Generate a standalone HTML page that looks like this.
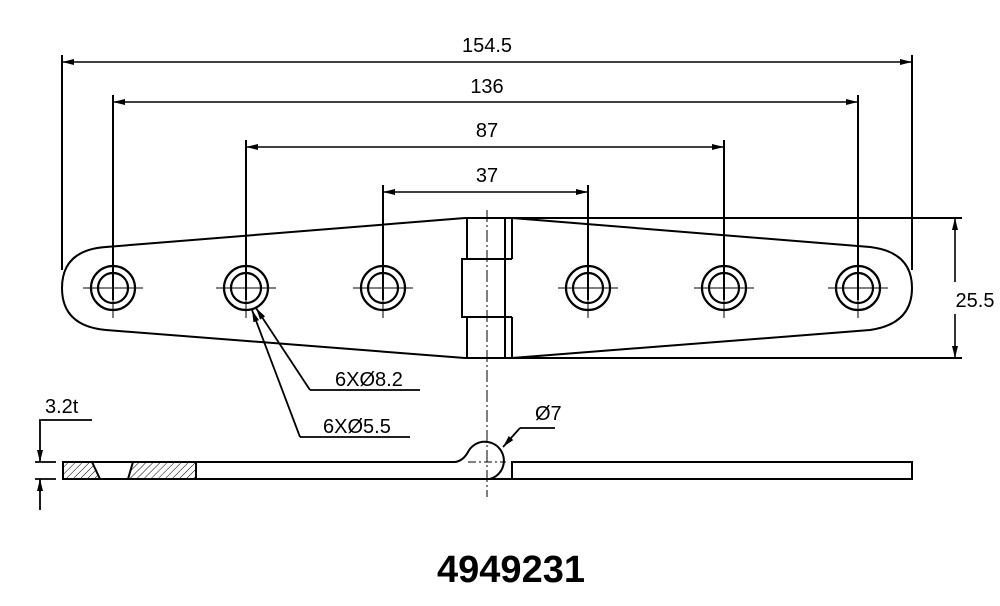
<!DOCTYPE html>
<html><head><meta charset="utf-8"><style>
html,body{margin:0;padding:0;background:#fff;}
svg{display:block;}
text{font-family:"Liberation Sans",sans-serif;fill:#000;}
</style></head><body>
<svg width="1000" height="606" viewBox="0 0 1000 606" xmlns="http://www.w3.org/2000/svg">
<defs>
<pattern id="h" width="5" height="5" patternUnits="userSpaceOnUse" patternTransform="rotate(45)">
<line x1="0" y1="0" x2="0" y2="5" stroke="#000" stroke-width="1"/></pattern>
<marker id="a" markerWidth="12" markerHeight="6" refX="12" refY="3" orient="auto" markerUnits="userSpaceOnUse">
<path d="M0,0 L12,3 L0,6 z" fill="#000"/></marker>
<marker id="b" markerWidth="12" markerHeight="6" refX="0" refY="3" orient="auto" markerUnits="userSpaceOnUse">
<path d="M12,0 L0,3 L12,6 z" fill="#000"/></marker>
</defs>
<g stroke="#000" fill="none" stroke-width="2">
<line x1="62" y1="62" x2="912" y2="62" stroke-width="1.6" marker-start="url(#b)" marker-end="url(#a)"/>
<line x1="113" y1="102" x2="858" y2="102" stroke-width="1.6" marker-start="url(#b)" marker-end="url(#a)"/>
<line x1="246" y1="147" x2="724" y2="147" stroke-width="1.6" marker-start="url(#b)" marker-end="url(#a)"/>
<line x1="383" y1="192" x2="588" y2="192" stroke-width="1.6" marker-start="url(#b)" marker-end="url(#a)"/>
<line x1="62" y1="55" x2="62" y2="270"/>
<line x1="912" y1="55" x2="912" y2="270"/>
<line x1="113" y1="95" x2="113" y2="300"/>
<line x1="858" y1="95" x2="858" y2="300"/>
<line x1="246" y1="140" x2="246" y2="300"/>
<line x1="724" y1="140" x2="724" y2="300"/>
<line x1="383" y1="185" x2="383" y2="300"/>
<line x1="588" y1="185" x2="588" y2="300"/>
<line x1="510" y1="218" x2="962" y2="218"/>
<line x1="510" y1="358" x2="962" y2="358"/>
<line x1="955" y1="218" x2="955" y2="282" stroke-width="1.6" marker-start="url(#b)"/>
<line x1="955" y1="314" x2="955" y2="358" stroke-width="1.6" marker-end="url(#a)"/>
<path d="M465,218 L106,247 Q62,250 62,288 Q62,326 106,330 L465,358"/>
<path d="M512,218 L870,247 Q912,252 912,288 Q912,324 870,330 L512,358"/>
<path d="M465,218 L512,218 M465,358 L512,358"/>
<path d="M467,218 L467,259 M467,317 L467,358"/>
<path d="M505,218 L505,259 M505,317 L505,358 M512,218 L512,259 M512,317 L512,358"/>
<path d="M512,259 L462,259 L462,317 L512,317"/>
<line x1="505" y1="259" x2="505" y2="317"/>
</g>
<g stroke="#000" fill="none">
<g stroke-width="2.2">
<circle cx="113" cy="288" r="22"/><circle cx="113" cy="288" r="15"/>
<circle cx="246" cy="288" r="22"/><circle cx="246" cy="288" r="15"/>
<circle cx="383" cy="288" r="22"/><circle cx="383" cy="288" r="15"/>
<circle cx="588" cy="288" r="22"/><circle cx="588" cy="288" r="15"/>
<circle cx="724" cy="288" r="22"/><circle cx="724" cy="288" r="15"/>
<circle cx="858" cy="288" r="22"/><circle cx="858" cy="288" r="15"/>
</g>
<g stroke-width="1">
<path d="M83,288 H143 M113,300 V318"/>
<path d="M216,288 H276 M246,300 V318"/>
<path d="M353,288 H413 M383,300 V318"/>
<path d="M558,288 H618 M588,300 V318"/>
<path d="M694,288 H754 M724,300 V318"/>
<path d="M828,288 H888 M858,300 V318"/>
<line x1="487" y1="210" x2="487" y2="497" stroke-dasharray="12,3,2,3"/>
<line x1="468" y1="462" x2="506" y2="462" stroke-dasharray="8,3,2,3"/>
</g>
</g>
<g stroke="#000" fill="none" stroke-width="1.8">
<path d="M310,390 H420" />
<line x1="310" y1="390" x2="256" y2="308" marker-end="url(#a)"/>
<path d="M300,437 H410" />
<line x1="300" y1="437" x2="252" y2="310" marker-end="url(#a)"/>
<path d="M555,428 H520" />
<line x1="520" y1="428" x2="503" y2="447" marker-end="url(#a)"/>
<path d="M92,420 H40 V462" marker-end="url(#a)"/>
<line x1="40" y1="510" x2="40" y2="479" marker-end="url(#a)"/>
<path d="M35,462 H56 M35,479 H56"/>
</g>
<g stroke="#000" stroke-width="2" fill="none">
<path d="M63,462 L92,462 L100,479 L63,479 Z" fill="url(#h)"/>
<path d="M133,462 L196,462 L196,479 L128,479 Z" fill="url(#h)"/>
<path d="M63,462 L455,462 Q463,461 468,452 A19,19 0 1 1 490,479"/>
<path d="M63,479 L912,479 L912,462 L512,462 L512,479"/>
</g>
<g font-size="20">
<text x="487" y="52" text-anchor="middle">154.5</text>
<text x="487" y="93" text-anchor="middle">136</text>
<text x="487" y="137" text-anchor="middle">87</text>
<text x="487" y="182" text-anchor="middle">37</text>
<text x="975" y="307" text-anchor="middle">25.5</text>
<text x="335" y="386">6XØ8.2</text>
<text x="323" y="433">6XØ5.5</text>
<text x="535" y="420">Ø7</text>
<text x="45" y="413">3.2t</text>
</g>
<text x="511" y="582" text-anchor="middle" font-size="38" font-weight="bold">4949231</text>
</svg>
</body></html>
